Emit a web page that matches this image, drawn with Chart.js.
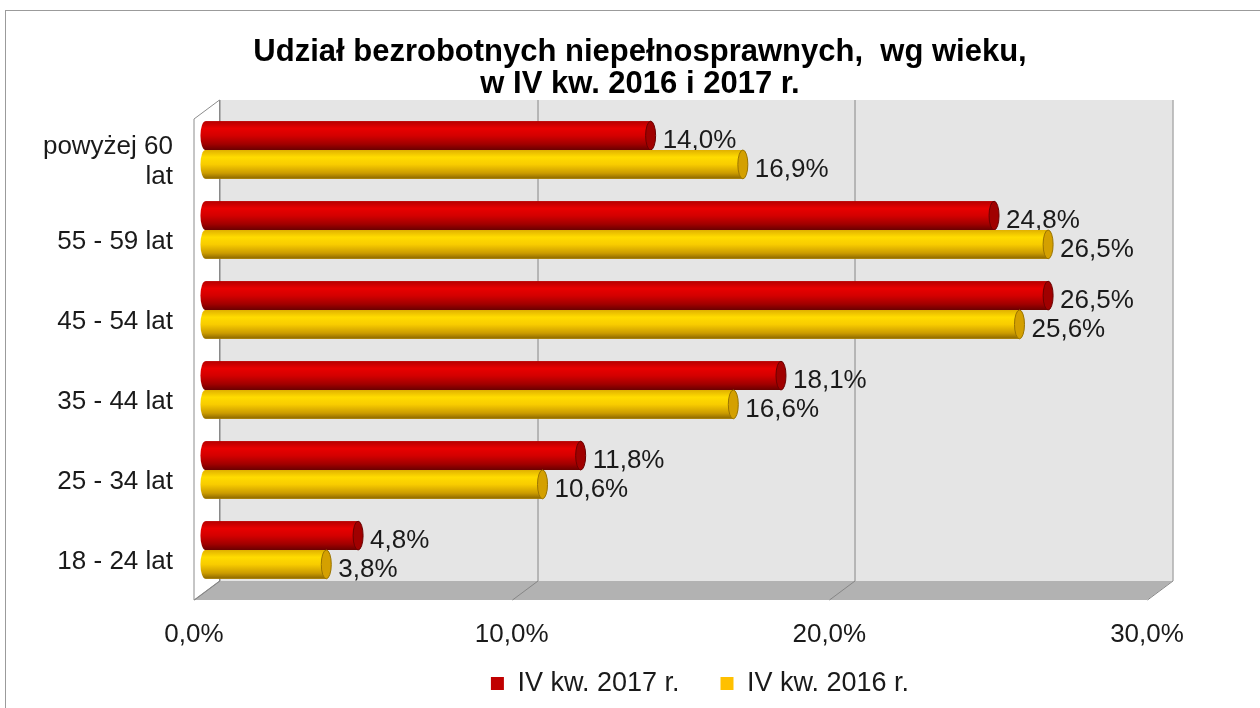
<!DOCTYPE html>
<html>
<head>
<meta charset="utf-8">
<script src="https://cdn.jsdelivr.net/npm/chart.js@4"></script>
<style>
  html, body { margin: 0; padding: 0; background: #fff; overflow: hidden; }
  #wrap { position: relative; width: 1260px; height: 708px; }
  #frame { position: absolute; left: 5px; top: 10px; width: 1300px; height: 800px; border: 1px solid #9b9b9b; pointer-events: none; }
</style>
</head>
<body>
<div id="wrap">
  <canvas id="myChart" width="1260" height="708"></canvas>
  <div id="frame"></div>
</div>
<script>
const categories = [['powyżej 60', 'lat'], '55 - 59 lat', '45 - 54 lat', '35 - 44 lat', '25 - 34 lat', '18 - 24 lat'];
const values2017 = [14.0, 24.8, 26.5, 18.1, 11.8, 4.8];
const values2016 = [16.9, 26.5, 25.6, 16.6, 10.6, 3.8];
const seriesNames = ['IV kw. 2017 r.', 'IV kw. 2016 r.'];
const tickValues = [0, 10, 20, 30];

const FONT = '"Liberation Sans", Arial, sans-serif';
const pct = v => v.toFixed(1).replace('.', ',') + '%';

// colours for the cylinders: body gradient stops and end cap
const looks = [
    { stops: [[0, '#b40000'], [0.25, '#e80000'], [0.5, '#d40000'], [0.8, '#a00000'], [1, '#6a0000']], cap: '#a00000', rim: '#6a0000' },
    { stops: [[0, '#e0b000'], [0.25, '#ffdc00'], [0.5, '#f8cc00'], [0.8, '#cc9c00'], [1, '#8a6600']], cap: '#d4a000', rim: '#9a7400' }
];

// 3D box: back wall, floor, side wall
const walls = {
    id: 'walls',
    beforeDatasetsDraw(chart) {
        const ctx = chart.ctx;
        const a = chart.chartArea;
        const sx = chart.scales.x2;
        const dx = 25.5, dy = 19;
        const x0 = sx.getPixelForValue(0), x1 = sx.getPixelForValue(30);
        const wallTop = a.top - 10, floorFront = a.bottom + 10, floorBack = floorFront - dy;
        ctx.save();
        // back wall
        ctx.fillStyle = '#e5e5e5';
        ctx.fillRect(x0 + dx, wallTop, x1 - x0, floorBack - wallTop);
        // floor
        ctx.fillStyle = '#b2b2b2';
        ctx.beginPath();
        ctx.moveTo(x0, floorFront);
        ctx.lineTo(x0 + dx, floorBack);
        ctx.lineTo(x1 + dx, floorBack);
        ctx.lineTo(x1, floorFront);
        ctx.closePath();
        ctx.fill();
        // side wall
        ctx.fillStyle = '#ffffff';
        ctx.strokeStyle = '#8c8c8c';
        ctx.lineWidth = 1;
        ctx.beginPath();
        ctx.moveTo(x0, wallTop + dy);
        ctx.lineTo(x0 + dx, wallTop);
        ctx.lineTo(x0 + dx, floorBack);
        ctx.lineTo(x0, floorFront);
        ctx.closePath();
        ctx.fill();
        ctx.stroke();
        // grid lines on back wall and floor
        ctx.strokeStyle = '#868686';
        tickValues.forEach(v => {
            const px = Math.round(sx.getPixelForValue(v)) + 0.5;
            ctx.beginPath();
            ctx.moveTo(px + dx, wallTop);
            ctx.lineTo(px + dx, floorBack);
            ctx.lineTo(px, floorFront);
            ctx.stroke();
        });
        ctx.restore();
    }
};

// draw each bar as a cylinder plus its value label
const cylinders = {
    id: 'cylinders',
    afterDatasetsDraw(chart) {
        const ctx = chart.ctx;
        ctx.save();
        chart.data.datasets.forEach((ds, di) => {
            const meta = chart.getDatasetMeta(di);
            const look = looks[di];
            meta.data.forEach((bar, i) => {
                const p = bar.getProps(['x', 'y', 'base', 'height'], true);
                const left = Math.min(p.base, p.x), right = Math.max(p.base, p.x);
                const top = p.y - p.height / 2, h = p.height;
                const rx = 5, ry = h / 2, cy = p.y;
                const g = ctx.createLinearGradient(0, top, 0, top + h);
                look.stops.forEach(s => g.addColorStop(s[0], s[1]));
                ctx.fillStyle = g;
                ctx.beginPath();
                ctx.moveTo(left, top);
                ctx.lineTo(right, top);
                ctx.lineTo(right, top + h);
                ctx.lineTo(left, top + h);
                ctx.ellipse(left, cy, rx, ry, 0, Math.PI / 2, Math.PI * 1.5);
                ctx.closePath();
                ctx.fill();
                // end cap
                ctx.beginPath();
                ctx.ellipse(right, cy, rx, ry, 0, 0, Math.PI * 2);
                ctx.fillStyle = look.cap;
                ctx.fill();
                ctx.strokeStyle = look.rim;
                ctx.lineWidth = 1;
                ctx.stroke();
                // label
                ctx.fillStyle = '#1a1a1a';
                ctx.font = '26px ' + FONT;
                ctx.textAlign = 'left';
                ctx.textBaseline = 'middle';
                ctx.fillText(pct(ds.data[i]), right + 12, p.y + 5);
            });
        });
        ctx.restore();
    }
};

// legend sits right of centre in the original; tick labels need room below the axis box
const nudges = {
    id: 'nudges',
    afterLayout(chart) {
        chart.legend.left += 60;
        chart.legend.right += 60;
        chart.scales.x2.bottom += 30;
    }
};

const ctx = document.getElementById('myChart').getContext('2d');
const myChart = new Chart(ctx, {
    type: 'bar',
    data: {
        labels: categories,
        datasets: [{
            label: seriesNames[0],
            data: values2017,
            backgroundColor: '#c00000',
            borderWidth: 0
        }, {
            label: seriesNames[1],
            data: values2016,
            backgroundColor: '#ffc000',
            borderWidth: 0
        }]
    },
    options: {
        indexAxis: 'y',
        responsive: false,
        animation: false,
        datasets: {
            bar: { categoryPercentage: 0.72, barPercentage: 1.0 }
        },
        layout: { padding: { left: 20, right: 0, top: 0, bottom: 1 } },
        plugins: {
            title: {
                display: true,
                text: ['Udział bezrobotnych niepełnosprawnych,  wg wieku,', 'w IV kw. 2016 i 2017 r.'],
                color: '#000',
                font: { family: FONT, size: 31, weight: 'bold', lineHeight: '32px' },
                padding: { top: 36, bottom: 10 }
            },
            legend: {
                position: 'bottom',
                labels: {
                    color: '#1a1a1a',
                    font: { family: FONT, size: 27 },
                    boxWidth: 13,
                    boxHeight: 13,
                    padding: 41
                }
            },
            tooltip: { enabled: false }
        },
        scales: {
            x: {
                display: false,
                min: -0.36,
                max: 29.61
            },
            x2: {
                type: 'linear',
                position: 'bottom',
                min: 0,
                max: 30,
                afterBuildTicks: s => { s.ticks = tickValues.map(v => ({ value: v })); },
                afterFit: s => { s.height = 39; },
                grid: { display: false, drawTicks: false },
                border: { display: false },
                ticks: {
                    padding: 29,
                    color: '#1a1a1a',
                    font: { family: FONT, size: 26 },
                    callback: v => pct(v)
                }
            },
            y: {
                afterFit: s => { s.width = 174; },
                grid: { display: false, drawTicks: false },
                border: { display: false },
                ticks: {
                    padding: 21,
                    labelOffset: 12,
                    color: '#1a1a1a',
                    font: { family: FONT, size: 26, lineHeight: 1.15 }
                }
            },
            // empty right-hand axis that only reserves the space right of the plot
            yRight: {
                type: 'category',
                position: 'right',
                afterFit: s => { s.width = 113; },
                grid: { display: false, drawTicks: false },
                border: { display: false },
                ticks: { display: false }
            }
        }
    },
    plugins: [walls, cylinders, nudges]
});
</script>
</body>
</html>
